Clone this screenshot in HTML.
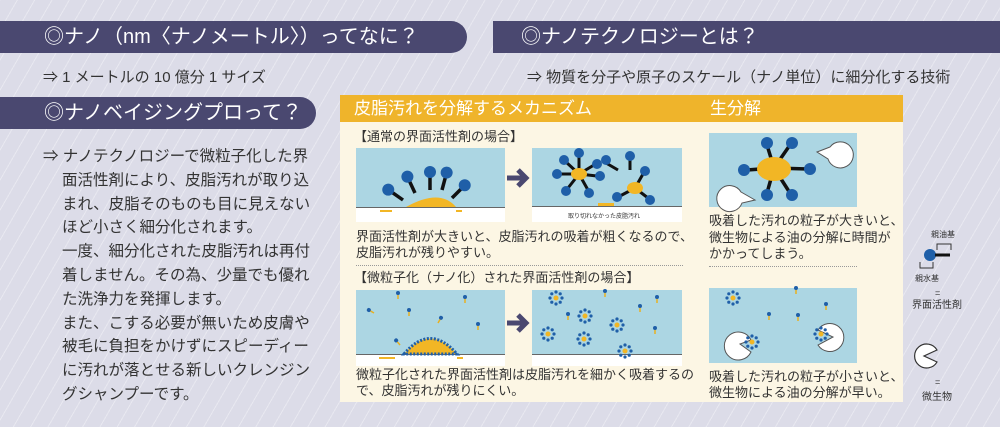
<!DOCTYPE html>
<html><head><meta charset="utf-8"><style>
body{margin:0;width:1000px;height:427px;overflow:hidden;position:relative;font-family:"Liberation Sans","Noto Sans CJK JP",sans-serif;color:#333;
background:#dcdce8 repeating-linear-gradient(-60deg,rgba(255,255,255,0) 0 14px,rgba(255,255,255,.35) 14px 15px);}
.pill{position:absolute;background:#4a4870;color:#fff;font-size:20px;line-height:32px;height:32px;box-sizing:border-box;}
.a{position:absolute;white-space:nowrap}
.t{font-size:13px;line-height:16px;color:#333}
</style></head><body>
<div class="pill" style="left:0;top:21px;width:467px;border-radius:0 16px 16px 0;padding-left:44px">◎ナノ（nm〈ナノメートル〉）ってなに？</div>
<div class="pill" style="left:493px;top:21px;width:507px;padding-left:28px">◎ナノテクノロジーとは？</div>
<div class="a" style="left:43px;top:66px;font-size:15px">⇒ 1 メートルの 10 億分 1 サイズ</div>
<div class="a" style="left:527px;top:66px;font-size:15px">⇒ 物質を分子や原子のスケール（ナノ単位）に細分化する技術</div>
<div class="pill" style="left:0;top:97px;width:316px;border-radius:0 16px 16px 0;padding-left:44px">◎ナノベイジングプロって？</div>
<div class="a" style="left:43px;top:145px;font-size:15.5px;line-height:23.8px;">
<div>⇒ ナノテクノロジーで微粒子化した界</div>
<div style="padding-left:19px">面活性剤により、皮脂汚れが取り込<br>まれ、皮脂そのものも目に見えない<br>ほど小さく細分化されます。<br>一度、細分化された皮脂汚れは再付<br>着しません。その為、少量でも優れ<br>た洗浄力を発揮します。<br>また、こする必要が無いため皮膚や<br>被毛に負担をかけずにスピーディー<br>に汚れが落とせる新しいクレンジン<br>グシャンプーです。</div></div>

<div class="a" style="left:340px;top:95px;width:563px;height:307px;background:#fcf6e4"></div>
<div class="a" style="left:340px;top:95px;width:563px;height:27px;background:#efb42b"></div>
<div class="a" style="left:354px;top:96px;font-size:17px;color:#fff;line-height:25px">皮脂汚れを分解するメカニズム</div>
<div class="a" style="left:710px;top:96px;font-size:17px;color:#fff;line-height:25px">生分解</div>
<div class="a t" style="left:354px;top:129px;font-size:13px">【通常の界面活性剤の場合】</div>
<div class="a t" style="left:356px;top:229px">界面活性剤が大きいと、皮脂汚れの吸着が粗くなるので、<br>皮脂汚れが残りやすい。</div>
<div class="a" style="left:356px;top:265px;width:327px;border-top:1px dotted #999"></div>
<div class="a t" style="left:354px;top:270px">【微粒子化（ナノ化）された界面活性剤の場合】</div>
<div class="a t" style="left:356px;top:367px">微粒子化された界面活性剤は皮脂汚れを細かく吸着するの<br>で、皮脂汚れが残りにくい。</div>
<div class="a t" style="left:709px;top:213px;line-height:16.5px">吸着した汚れの粒子が大きいと、<br>微生物による油の分解に時間が<br>かかってしまう。</div>
<div class="a" style="left:709px;top:266px;width:148px;border-top:1px dotted #999"></div>
<div class="a t" style="left:709px;top:369px">吸着した汚れの粒子が小さいと、<br>微生物による油の分解が早い。</div>

<svg class="a" style="left:0;top:0" width="1000" height="427">
<defs>
<g id="sf"><line x1="0" y1="0" x2="0" y2="-14" stroke="#111" stroke-width="3.5"/><circle cx="0" cy="-18" r="6" fill="#1f5fa8"/></g>
<g id="mic"><circle r="2.5" fill="#f2b625"/>
<g fill="#1f5fa8"><circle cx="0" cy="-6" r="1.6"/><circle cx="4.2" cy="-4.2" r="1.6"/><circle cx="6" cy="0" r="1.6"/><circle cx="4.2" cy="4.2" r="1.6"/><circle cx="0" cy="6" r="1.6"/><circle cx="-4.2" cy="4.2" r="1.6"/><circle cx="-6" cy="0" r="1.6"/><circle cx="-4.2" cy="-4.2" r="1.6"/></g></g>
<g id="ms"><line x1="0" y1="0" x2="0" y2="-5" stroke="#e8b020" stroke-width="1.5"/><circle cx="0" cy="-6" r="2" fill="#1f5fa8"/></g>
</defs>
<rect x="356" y="148" width="149" height="60" fill="#acd6e3"/><rect x="356" y="208" width="149" height="14" fill="#fff"/>
<line x1="356" y1="207.5" x2="505" y2="207.5" stroke="#666" stroke-width="1"/>
<path d="M406 207 Q440 188 456 207Z" fill="#f2b625"/>
<rect x="380" y="210" width="12" height="2" fill="#f2b625"/><rect x="456" y="210" width="6" height="2" fill="#f2b625"/>
<use href="#sf" transform="translate(403,200) rotate(-55)"/><use href="#sf" transform="translate(415,193) rotate(-25)"/>
<use href="#sf" transform="translate(430,190)"/><use href="#sf" transform="translate(442,190) rotate(15)"/>
<use href="#sf" transform="translate(452,198) rotate(45)"/>
<path d="M507 178 h18 M518 170 l8 8 -8 8" stroke="#4a4870" stroke-width="5" fill="none"/>
<rect x="532" y="148" width="150" height="58" fill="#acd6e3"/><rect x="532" y="206" width="150" height="16" fill="#fff"/>
<line x1="532" y1="206.5" x2="682" y2="206.5" stroke="#666"/>
<g stroke="#111" stroke-width="3"><path d="M579 174 L566 162 M579 174 L579 156 M579 174 L594 165 M579 174 L560 174 M579 174 L597 176 M579 174 L568 188 M579 174 L588 190 M635 188 L620 196 M635 188 L648 198 M635 188 L643 174 M606 163 L618 170 M630 159 L630 170"/></g>
<ellipse cx="579" cy="174" rx="8" ry="6" fill="#f2b625"/><ellipse cx="635" cy="188" rx="8" ry="6" fill="#f2b625"/>
<g fill="#1f5fa8"><circle cx="564" cy="160" r="5"/><circle cx="579" cy="153" r="5"/><circle cx="597" cy="164" r="5"/><circle cx="557" cy="174" r="5"/><circle cx="600" cy="176" r="5"/><circle cx="566" cy="191" r="5"/><circle cx="589" cy="193" r="5"/><circle cx="617" cy="197" r="5"/><circle cx="650" cy="200" r="5"/><circle cx="645" cy="171" r="5"/><circle cx="606" cy="160" r="5"/><circle cx="630" cy="156" r="5"/></g>
<rect x="598" y="203" width="16" height="3" fill="#f2b625"/>
<text x="568" y="218" font-size="6" fill="#333">取り切れなかった皮脂汚れ</text>
<rect x="356" y="290" width="149" height="64" fill="#acd6e3"/><rect x="356" y="354" width="149" height="12" fill="#fff"/>
<line x1="356" y1="354.5" x2="505" y2="354.5" stroke="#666"/>
<path d="M404 354 Q430 323 457 354Z" fill="#f2b625" stroke="#1f5fa8" stroke-width="3" stroke-dasharray="2 1.5"/>
<rect x="379" y="357" width="16" height="2" fill="#f2b625"/><rect x="457" y="357" width="6" height="2" fill="#f2b625"/>
<use href="#ms" transform="translate(398,299)"/><use href="#ms" transform="translate(465,303)"/><use href="#ms" transform="translate(374,313) rotate(-60)"/><use href="#ms" transform="translate(409,316)"/><use href="#ms" transform="translate(438,323) rotate(30)"/><use href="#ms" transform="translate(478,330)"/><use href="#ms" transform="translate(400,345) rotate(-40)"/>
<path d="M507 323 h18 M518 315 l8 8 -8 8" stroke="#4a4870" stroke-width="5" fill="none"/>
<rect x="532" y="290" width="150" height="64" fill="#acd6e3"/><rect x="532" y="354" width="150" height="12" fill="#fff"/>
<line x1="532" y1="354.5" x2="682" y2="354.5" stroke="#666"/>
<use href="#mic" transform="translate(556,298)"/><use href="#mic" transform="translate(585,316)"/><use href="#mic" transform="translate(617,325)"/><use href="#mic" transform="translate(548,334)"/><use href="#mic" transform="translate(584,339)"/><use href="#mic" transform="translate(625,351)"/>
<use href="#ms" transform="translate(605,297)"/><use href="#ms" transform="translate(657,303)"/><use href="#ms" transform="translate(568,320)"/><use href="#ms" transform="translate(655,334)"/><use href="#ms" transform="translate(640,312)"/>
<rect x="709" y="133" width="148" height="74" fill="#acd6e3"/>
<g stroke="#111" stroke-width="3.5"><path d="M774 168 L767 145 M774 168 L790 145 M774 168 L747 170 M774 168 L808 169 M774 168 L767 193 M774 168 L790 193"/></g>
<ellipse cx="774" cy="169" rx="17" ry="12" fill="#f2b625"/>
<g fill="#1f5fa8"><circle cx="767" cy="143" r="6"/><circle cx="792" cy="143" r="6"/><circle cx="744" cy="170" r="6"/><circle cx="810" cy="169" r="6"/><circle cx="767" cy="195" r="6"/><circle cx="792" cy="195" r="6"/></g>
<path d="M830 147 L817 152 L828 159 A13 13 0 1 0 830 147Z" fill="#fff" stroke="#555"/>
<path d="M741 192 L755 200 L742 203 A13 13 0 1 1 741 192Z" fill="#fff" stroke="#555"/>
<rect x="709" y="288" width="148" height="75" fill="#acd6e3"/>
<use href="#mic" transform="translate(733,298)"/>
<use href="#ms" transform="translate(796,294)"/><use href="#ms" transform="translate(769,320)"/><use href="#ms" transform="translate(798,321)"/><use href="#ms" transform="translate(826,310)"/>
<path d="M755 340 L744 344 L755 352 A14 14 0 1 1 755 340Z" fill="#fff" stroke="#555" transform="translate(-4,0)"/>
<path d="M818 330 L833 337 L818 345 A14 14 0 1 0 818 330Z" fill="#fff" stroke="#555"/>
<use href="#mic" transform="translate(752,342)"/><use href="#mic" transform="translate(821,334)"/>
<circle cx="930" cy="255" r="6" fill="#1f5fa8"/><line x1="935" y1="255" x2="950" y2="255" stroke="#111" stroke-width="3"/>
<path d="M937 250 V244 H951 V250" stroke="#333" fill="none"/><path d="M920 262 V268 H933 V262" stroke="#333" fill="none"/>
<text x="931" y="237" font-size="8" fill="#333">親油基</text>
<text x="915" y="281" font-size="8" fill="#333">親水基</text>
<text x="935" y="296" font-size="9" fill="#333">=</text>
<text x="912" y="308" font-size="10" fill="#333">界面活性剤</text>
<path d="M945 350 L932 356 L945 362 A12 12 0 1 1 945 350Z" fill="#fff" stroke="#333" stroke-width="1.2" transform="translate(-8,-0)"/>
<text x="935" y="385" font-size="9" fill="#333">=</text>
<text x="922" y="400" font-size="10" fill="#333">微生物</text>
</svg>
</body></html>
